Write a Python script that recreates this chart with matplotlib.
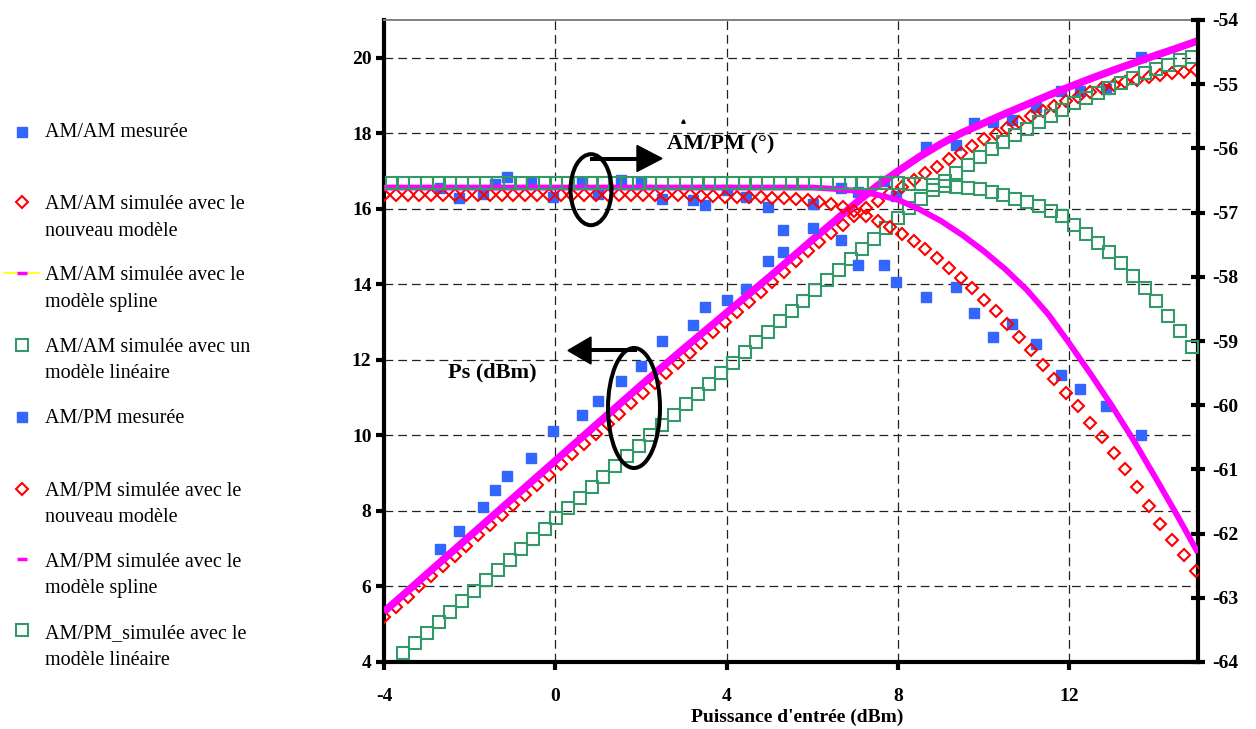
import numpy as np
import matplotlib
matplotlib.use("Agg")
import matplotlib.pyplot as plt
from matplotlib.patches import Ellipse, Polygon

plt.rcParams['font.family'] = ['Liberation Serif', 'DejaVu Serif']

# ---- measured data (same input power sweep for AM/AM and AM/PM) ----
pin_meas = [-2.70, -2.25, -1.70, -1.41, -1.13, -0.56, -0.05, 0.61, 0.99, 1.54,
            2.01, 2.49, 3.21, 3.49, 4.00, 4.45, 4.96, 5.31, 6.01, 6.67,
            7.06, 7.67, 7.96, 8.66, 9.35, 9.77, 10.22, 10.67, 11.22, 11.80,
            12.25, 12.86, 13.67]
amam_meas = [7.00, 7.47, 8.11, 8.55, 8.92, 9.39, 10.12, 10.53, 10.90, 11.44,
             11.83, 12.50, 12.92, 13.40, 13.58, 13.89, 14.63, 14.85, 16.13, 16.55,
             16.45, 16.75, 16.35, 17.63, 17.68, 18.27, 18.29, 18.34, 18.69, 19.13,
             19.13, 19.18, 20.01]
ampm_meas = [-56.62, -56.78, -56.71, -56.56, -56.44, -56.52, -56.75, -56.52, -56.71, -56.49,
             -56.54, -56.79, -56.81, -56.88, -56.65, -56.75, -56.91, -57.27, -57.24, -57.42,
             -57.82, -57.82, -58.08, -58.31, -58.16, -58.57, -58.93, -58.74, -59.05, -59.53,
             -59.74, -60.02, -60.46]

# ---- new model ----
pin_new = [-4.00, -3.73, -3.45, -3.18, -2.90, -2.63, -2.35, -2.08, -1.80, -1.53,
           -1.25, -0.98, -0.70, -0.43, -0.16, 0.12, 0.39, 0.67, 0.94, 1.22,
           1.49, 1.77, 2.04, 2.32, 2.59, 2.87, 3.14, 3.41, 3.69, 3.96,
           4.24, 4.51, 4.79, 5.06, 5.34, 5.61, 5.89, 6.16, 6.43, 6.71,
           6.98, 7.26, 7.53, 7.81, 8.08, 8.36, 8.63, 8.91, 9.18, 9.46,
           9.73, 10.00, 10.28, 10.55, 10.83, 11.10, 11.38, 11.65, 11.93, 12.20,
           12.48, 12.75, 13.03, 13.30, 13.57, 13.85, 14.12, 14.40, 14.67, 14.95]
amam_new = [5.20, 5.46, 5.73, 6.00, 6.28, 6.54, 6.81, 7.08, 7.35, 7.62,
            7.89, 8.16, 8.43, 8.70, 8.96, 9.23, 9.50, 9.77, 10.04, 10.31,
            10.57, 10.85, 11.11, 11.39, 11.65, 11.93, 12.19, 12.45, 12.73, 12.99,
            13.27, 13.53, 13.80, 14.07, 14.34, 14.61, 14.88, 15.13, 15.36, 15.58,
            15.80, 16.01, 16.21, 16.41, 16.59, 16.77, 16.94, 17.12, 17.31, 17.49,
            17.67, 17.84, 17.99, 18.14, 18.30, 18.45, 18.60, 18.72, 18.85, 18.97,
            19.10, 19.20, 19.28, 19.35, 19.42, 19.48, 19.54, 19.59, 19.63, 19.68]
ampm_new = [-56.72, -56.72, -56.72, -56.72, -56.72, -56.72, -56.72, -56.72, -56.72, -56.72,
            -56.72, -56.72, -56.72, -56.72, -56.72, -56.72, -56.72, -56.72, -56.72, -56.72,
            -56.72, -56.72, -56.72, -56.72, -56.73, -56.73, -56.73, -56.74, -56.74, -56.75,
            -56.75, -56.76, -56.76, -56.77, -56.78, -56.79, -56.80, -56.83, -56.87, -56.91,
            -56.97, -57.05, -57.13, -57.23, -57.33, -57.44, -57.56, -57.71, -57.86, -58.02,
            -58.18, -58.36, -58.54, -58.73, -58.94, -59.14, -59.37, -59.59, -59.81, -60.02,
            -60.27, -60.50, -60.74, -61.00, -61.28, -61.57, -61.85, -62.10, -62.34, -62.58]

# ---- spline model ----
pin_spline = [-4, -3, -2, -1, 0, 1, 2, 3, 4, 5, 6, 6.5, 7, 7.5, 8, 8.5, 9, 9.5,
              10, 10.5, 11, 11.5, 12, 12.5, 13, 13.5, 14, 14.5, 15]
amam_spline = [5.33, 6.33, 7.33, 8.33, 9.33, 10.33, 11.33, 12.30, 13.25, 14.20,
               15.18, 15.66, 16.14, 16.60, 17.00, 17.38, 17.72, 18.02, 18.27, 18.52,
               18.76, 19.00, 19.23, 19.45, 19.66, 19.86, 20.06, 20.25, 20.45]
ampm_spline = [-56.61, -56.61, -56.61, -56.61, -56.61, -56.61, -56.61, -56.61, -56.61, -56.61,
               -56.61, -56.63, -56.66, -56.72, -56.80, -56.95, -57.13, -57.35, -57.60, -57.88,
               -58.20, -58.58, -59.04, -59.52, -60.02, -60.55, -61.12, -61.70, -62.30]

# ---- linear model ----
pin_lin = [-3.82, -3.55, -3.27, -3.00, -2.72, -2.45, -2.17, -1.90, -1.62, -1.35,
           -1.07, -0.80, -0.52, -0.25, 0.02, 0.30, 0.57, 0.85, 1.12, 1.40,
           1.67, 1.95, 2.22, 2.50, 2.77, 3.05, 3.32, 3.59, 3.87, 4.14,
           4.42, 4.69, 4.97, 5.24, 5.52, 5.79, 6.07, 6.34, 6.61, 6.89,
           7.16, 7.44, 7.71, 7.99, 8.26, 8.54, 8.81, 9.09, 9.36, 9.64,
           9.91, 10.18, 10.46, 10.73, 11.01, 11.28, 11.56, 11.83, 12.11, 12.38,
           12.66, 12.93, 13.21, 13.48, 13.76, 14.03, 14.31, 14.58, 14.85]
# first linear-model output point lies below the axis range (starts at pin_lin[1])
amam_lin = [4.23, 4.51, 4.78, 5.06, 5.33, 5.61, 5.88, 6.16, 6.43, 6.71,
            6.98, 7.26, 7.53, 7.80, 8.08, 8.35, 8.63, 8.90, 9.18, 9.45,
            9.73, 10.00, 10.28, 10.55, 10.83, 11.10, 11.37, 11.65, 11.92, 12.20,
            12.47, 12.75, 13.02, 13.30, 13.57, 13.85, 14.12, 14.39, 14.67, 14.94,
            15.21, 15.48, 15.75, 16.01, 16.27, 16.51, 16.74, 16.96, 17.17, 17.38,
            17.58, 17.77, 17.95, 18.12, 18.29, 18.46, 18.63, 18.79, 18.94, 19.08,
            19.21, 19.34, 19.47, 19.59, 19.71, 19.82, 19.93, 20.03]
ampm_lin = [-56.54, -56.54, -56.54, -56.54, -56.54, -56.54, -56.54, -56.54, -56.54, -56.54,
            -56.54, -56.54, -56.54, -56.54, -56.54, -56.54, -56.54, -56.54, -56.54, -56.54,
            -56.54, -56.54, -56.54, -56.54, -56.54, -56.54, -56.54, -56.54, -56.54, -56.54,
            -56.54, -56.54, -56.54, -56.54, -56.54, -56.54, -56.54, -56.54, -56.54, -56.54,
            -56.54, -56.54, -56.54, -56.54, -56.55, -56.56, -56.57, -56.58, -56.60, -56.61,
            -56.64, -56.68, -56.73, -56.79, -56.84, -56.89, -56.97, -57.06, -57.19, -57.33,
            -57.47, -57.62, -57.79, -57.98, -58.18, -58.38, -58.61, -58.84, -59.09]

x_ticks = [-4, 0, 4, 8, 12]
left_ticks = [4, 6, 8, 10, 12, 14, 16, 18, 20]
right_ticks = [-64, -63, -62, -61, -60, -59, -58, -57, -56, -55, -54]

legend_labels = [
    ["AM/AM mesurée"],
    ["AM/AM simulée avec le", "nouveau modèle"],
    ["AM/AM simulée avec le", "modèle spline"],
    ["AM/AM simulée avec un", "modèle linéaire"],
    ["AM/PM mesurée"],
    ["AM/PM simulée avec le", "nouveau modèle"],
    ["AM/PM simulée avec le", "modèle spline"],
    ["AM/PM_simulée avec le", "modèle linéaire"],
]

BLUE = '#3366FF'
RED = '#FF0000'
MAGENTA = '#FF00FF'
GREEN = '#339966'
YELLOW = '#FFFF00'

W, H = 1256, 729
fig = plt.figure(figsize=(W / 100, H / 100), dpi=100)
ax = fig.add_axes([384 / W, 1 - 662 / H, (1198 - 384) / W, (662 - 20) / H])
ax2 = ax.twinx()

ax.set_xlim(-4, 15)
ax.set_ylim(4, 21)
ax2.set_ylim(-64, -54)

# grid
ax.set_axisbelow(True)
ax.grid(True, color='#222222', linewidth=0.9, linestyle=(0, (7, 4)))
ax.set_xticks(x_ticks)
ax.set_yticks(left_ticks)
ax2.set_yticks(right_ticks)

tick_font = dict(fontsize=14, fontweight='bold')
ax.set_xticklabels([str(v) for v in x_ticks], **tick_font)
ax.set_yticklabels([str(v) for v in left_ticks], **tick_font)
ax2.set_yticklabels([str(v) for v in right_ticks], **tick_font)

# spines
for s in ['left', 'bottom']:
    ax.spines[s].set_linewidth(3.0)
    ax.spines[s].set_color('black')
ax.spines['top'].set_color('#808080')
ax.spines['top'].set_linewidth(1.4)
ax.spines['right'].set_visible(False)
for s in ['left', 'bottom', 'top']:
    ax2.spines[s].set_visible(False)
ax2.spines['right'].set_linewidth(3.0)
ax2.spines['right'].set_color('black')

ax.tick_params(axis='y', direction='out', length=6, width=3, pad=3)
ax.tick_params(axis='x', direction='out', length=6, width=3, pad=13)
ax2.tick_params(axis='y', direction='inout', length=10, width=3, pad=5)

ax.set_xlabel("Puissance d'entrée (dBm)", fontsize=14, fontweight='bold')
ax.xaxis.set_label_coords(0.507, -0.0857)
ax.xaxis.label.set_va('center')

# AM/AM curves (left axis)
ax.plot(pin_meas, amam_meas, ls='none', marker='s', ms=7.6, color=BLUE, mec=BLUE, zorder=2)
ax.plot(pin_new, amam_new, ls='none', marker='D', ms=6.2, mfc='none', mec=RED, mew=1.5, zorder=3)
ax.plot(pin_spline, amam_spline, color=MAGENTA, lw=5.4, solid_capstyle='butt',
        solid_joinstyle='round', zorder=4)
ax.plot(pin_lin[1:], amam_lin, ls='none', marker='s', ms=8.4, mfc='none', mec=GREEN, mew=1.5, zorder=5)

# AM/PM curves (right axis)
ax2.plot(pin_meas, ampm_meas, ls='none', marker='s', ms=7.6, color=BLUE, mec=BLUE, zorder=2)
ax2.plot(pin_new, ampm_new, ls='none', marker='D', ms=6.2, mfc='none', mec=RED, mew=1.5, zorder=3)
ax2.plot(pin_spline, ampm_spline, color=MAGENTA, lw=4.2, solid_capstyle='butt',
         solid_joinstyle='round', zorder=4)
ax2.plot(pin_lin, ampm_lin, ls='none', marker='s', ms=8.4, mfc='none', mec=GREEN, mew=1.5, zorder=5)

# overlay in pixel coordinates for annotations and legend
ov = fig.add_axes([0, 0, 1, 1], zorder=10)
ov.set_xlim(0, W)
ov.set_ylim(H, 0)
ov.axis('off')
ov.patch.set_alpha(0)

# right-pointing annotation: phase axis
ov.add_patch(Ellipse((591, 189.7), 41, 71, fill=False, lw=2.9, ec='black'))
ov.plot([590, 640], [159, 159], color='black', lw=2.9, solid_capstyle='butt')
ov.add_patch(Polygon([(637, 145.5), (662, 158.5), (637, 171.5)], closed=True, fc='black', ec='black'))
ov.text(667, 149, "AM/PM (°)", fontsize=16, fontweight='bold', ha='left', va='baseline')
ov.plot([683], [121], marker='^', ms=2.5, color='black')

# left-pointing annotation: output power axis
ov.add_patch(Ellipse((634, 408), 52, 120, fill=False, lw=2.9, ec='black'))
ov.plot([637, 588], [350, 350], color='black', lw=2.9, solid_capstyle='butt')
ov.add_patch(Polygon([(591, 337), (568, 350.5), (591, 364)], closed=True, fc='black', ec='black'))
ov.text(448, 377, "Ps (dBm)", fontsize=16, fontweight='bold', ha='left', va='baseline')

# legend
legend_baselines = [[137], [209, 236], [280, 307], [352, 378],
                    [423], [496, 522], [567, 593], [638, 665]]
legend_marker_y = [132, 202, 272.7, 345, 416.7, 489, 559.3, 630]
for lines, bases in zip(legend_labels, legend_baselines):
    for txt, b in zip(lines, bases):
        ov.text(45, b, txt, fontsize=14.5, ha='left', va='baseline')

mx = 21.7
ov.plot([mx], [legend_marker_y[0]], ls='none', marker='s', ms=6.5, color=BLUE)
ov.plot([mx], [legend_marker_y[1]], ls='none', marker='D', ms=6.3, mfc='none', mec=RED, mew=1.5)
ov.plot([4, 39.3], [legend_marker_y[2]] * 2, color=YELLOW, lw=1.2)
ov.plot([16.7, 26.7], [legend_marker_y[2]] * 2, color=MAGENTA, lw=2.5, solid_capstyle='butt')
ov.plot([mx], [legend_marker_y[3]], ls='none', marker='s', ms=8.4, mfc='none', mec=GREEN, mew=1.5)
ov.plot([mx], [legend_marker_y[4]], ls='none', marker='s', ms=6.5, color=BLUE)
ov.plot([mx], [legend_marker_y[5]], ls='none', marker='D', ms=6.3, mfc='none', mec=RED, mew=1.5)
ov.plot([16.7, 26.7], [legend_marker_y[6]] * 2, color=MAGENTA, lw=2.5, solid_capstyle='butt')
ov.plot([mx], [legend_marker_y[7]], ls='none', marker='s', ms=8.4, mfc='none', mec=GREEN, mew=1.5)

fig.savefig('out.png', dpi=100)
